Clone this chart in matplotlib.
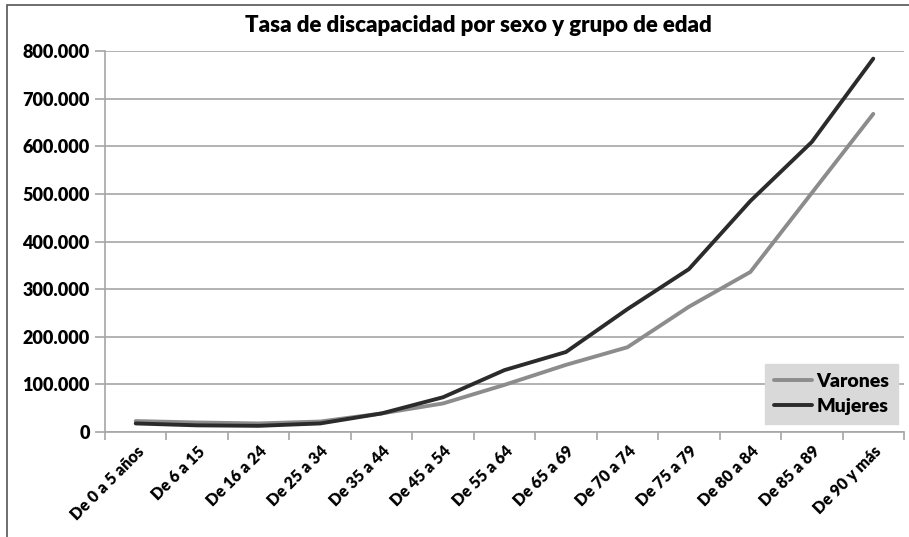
import numpy as np
import matplotlib.pyplot as plt
from matplotlib.patches import Rectangle
from matplotlib.ticker import FuncFormatter

# data
grupos = ['De 0 a 5 años', 'De 6 a 15', 'De 16 a 24', 'De 25 a 34', 'De 35 a 44',
          'De 45 a 54', 'De 55 a 64', 'De 65 a 69', 'De 70 a 74', 'De 75 a 79',
          'De 80 a 84', 'De 85 a 89', 'De 90 y más']
varones = [23000, 20000, 18000, 22000, 39000, 60000, 99000, 141000, 178000,
           263000, 336000, 502000, 668000]
mujeres = [18000, 14000, 13000, 18000, 39000, 73000, 130000, 168000, 258000,
           342000, 485000, 609000, 784000]
y_ticks = [0, 100000, 200000, 300000, 400000, 500000, 600000, 700000, 800000]

plt.rcParams['font.family'] = ['Lato', 'DejaVu Sans']
plt.rcParams['font.weight'] = 'heavy'

fig = plt.figure(figsize=(9.09, 5.37), dpi=100)
ax = fig.add_axes([0.1155, 0.1955, 0.879, 0.7095])

x = np.arange(len(grupos))
ax.plot(x, varones, color='#8c8c8c', lw=2.8, label='Varones', solid_capstyle='round')
ax.plot(x, mujeres, color='#2b2b2b', lw=2.8, label='Mujeres', solid_capstyle='round')

ax.set_xlim(-0.5, len(grupos) - 0.5)
ax.set_ylim(0, 800000)
ax.set_yticks(y_ticks)
ax.yaxis.set_major_formatter(FuncFormatter(
    lambda v, p: '0' if v == 0 else '{:,.0f}'.format(v).replace(',', '.')))
ax.grid(axis='y', color='#a6a6a6', lw=1.2)
ax.set_axisbelow(True)

# ticks between categories, labels at centres
ax.set_xticks(np.arange(len(grupos) + 1) - 0.5)
ax.set_xticklabels([])
ax.set_xticks(x, minor=True)
ax.set_xticklabels(grupos, minor=True, rotation=45, ha='right', va='top',
                   rotation_mode='anchor', fontsize=11.5, fontweight='heavy')
ax.tick_params(axis='x', which='minor', length=0, pad=8)
ax.tick_params(axis='x', which='major', length=6, color='#a6a6a6', width=1.2)
ax.tick_params(axis='y', length=7, color='#a6a6a6', width=1.2, labelsize=13, pad=4)

for s in ['top', 'right']:
    ax.spines[s].set_visible(False)
for s in ['left', 'bottom']:
    ax.spines[s].set_color('#a6a6a6')
    ax.spines[s].set_linewidth(1.2)

leg = ax.legend(loc='lower right', bbox_to_anchor=(0.9925, 0.021),
                frameon=True, fancybox=False, handlelength=2.0, handletextpad=0.2,
                borderpad=0.45, labelspacing=0.45, borderaxespad=0,
                prop={'weight': 'heavy', 'size': 14})
leg.get_frame().set_facecolor('#d9d9d9')
leg.get_frame().set_edgecolor('#d9d9d9')
leg.get_frame().set_alpha(1)

fig.text(0.526, 0.952, 'Tasa de discapacidad por sexo y grupo de edad',
         ha='center', va='center', fontsize=16, fontweight='heavy')

# outer frame of the chart
fig.patches.append(Rectangle((0.008, -0.01), 1.2, 1.0, transform=fig.transFigure,
                             fill=False, edgecolor='#555555', lw=1.2))

fig.savefig('out.png', dpi=100)
